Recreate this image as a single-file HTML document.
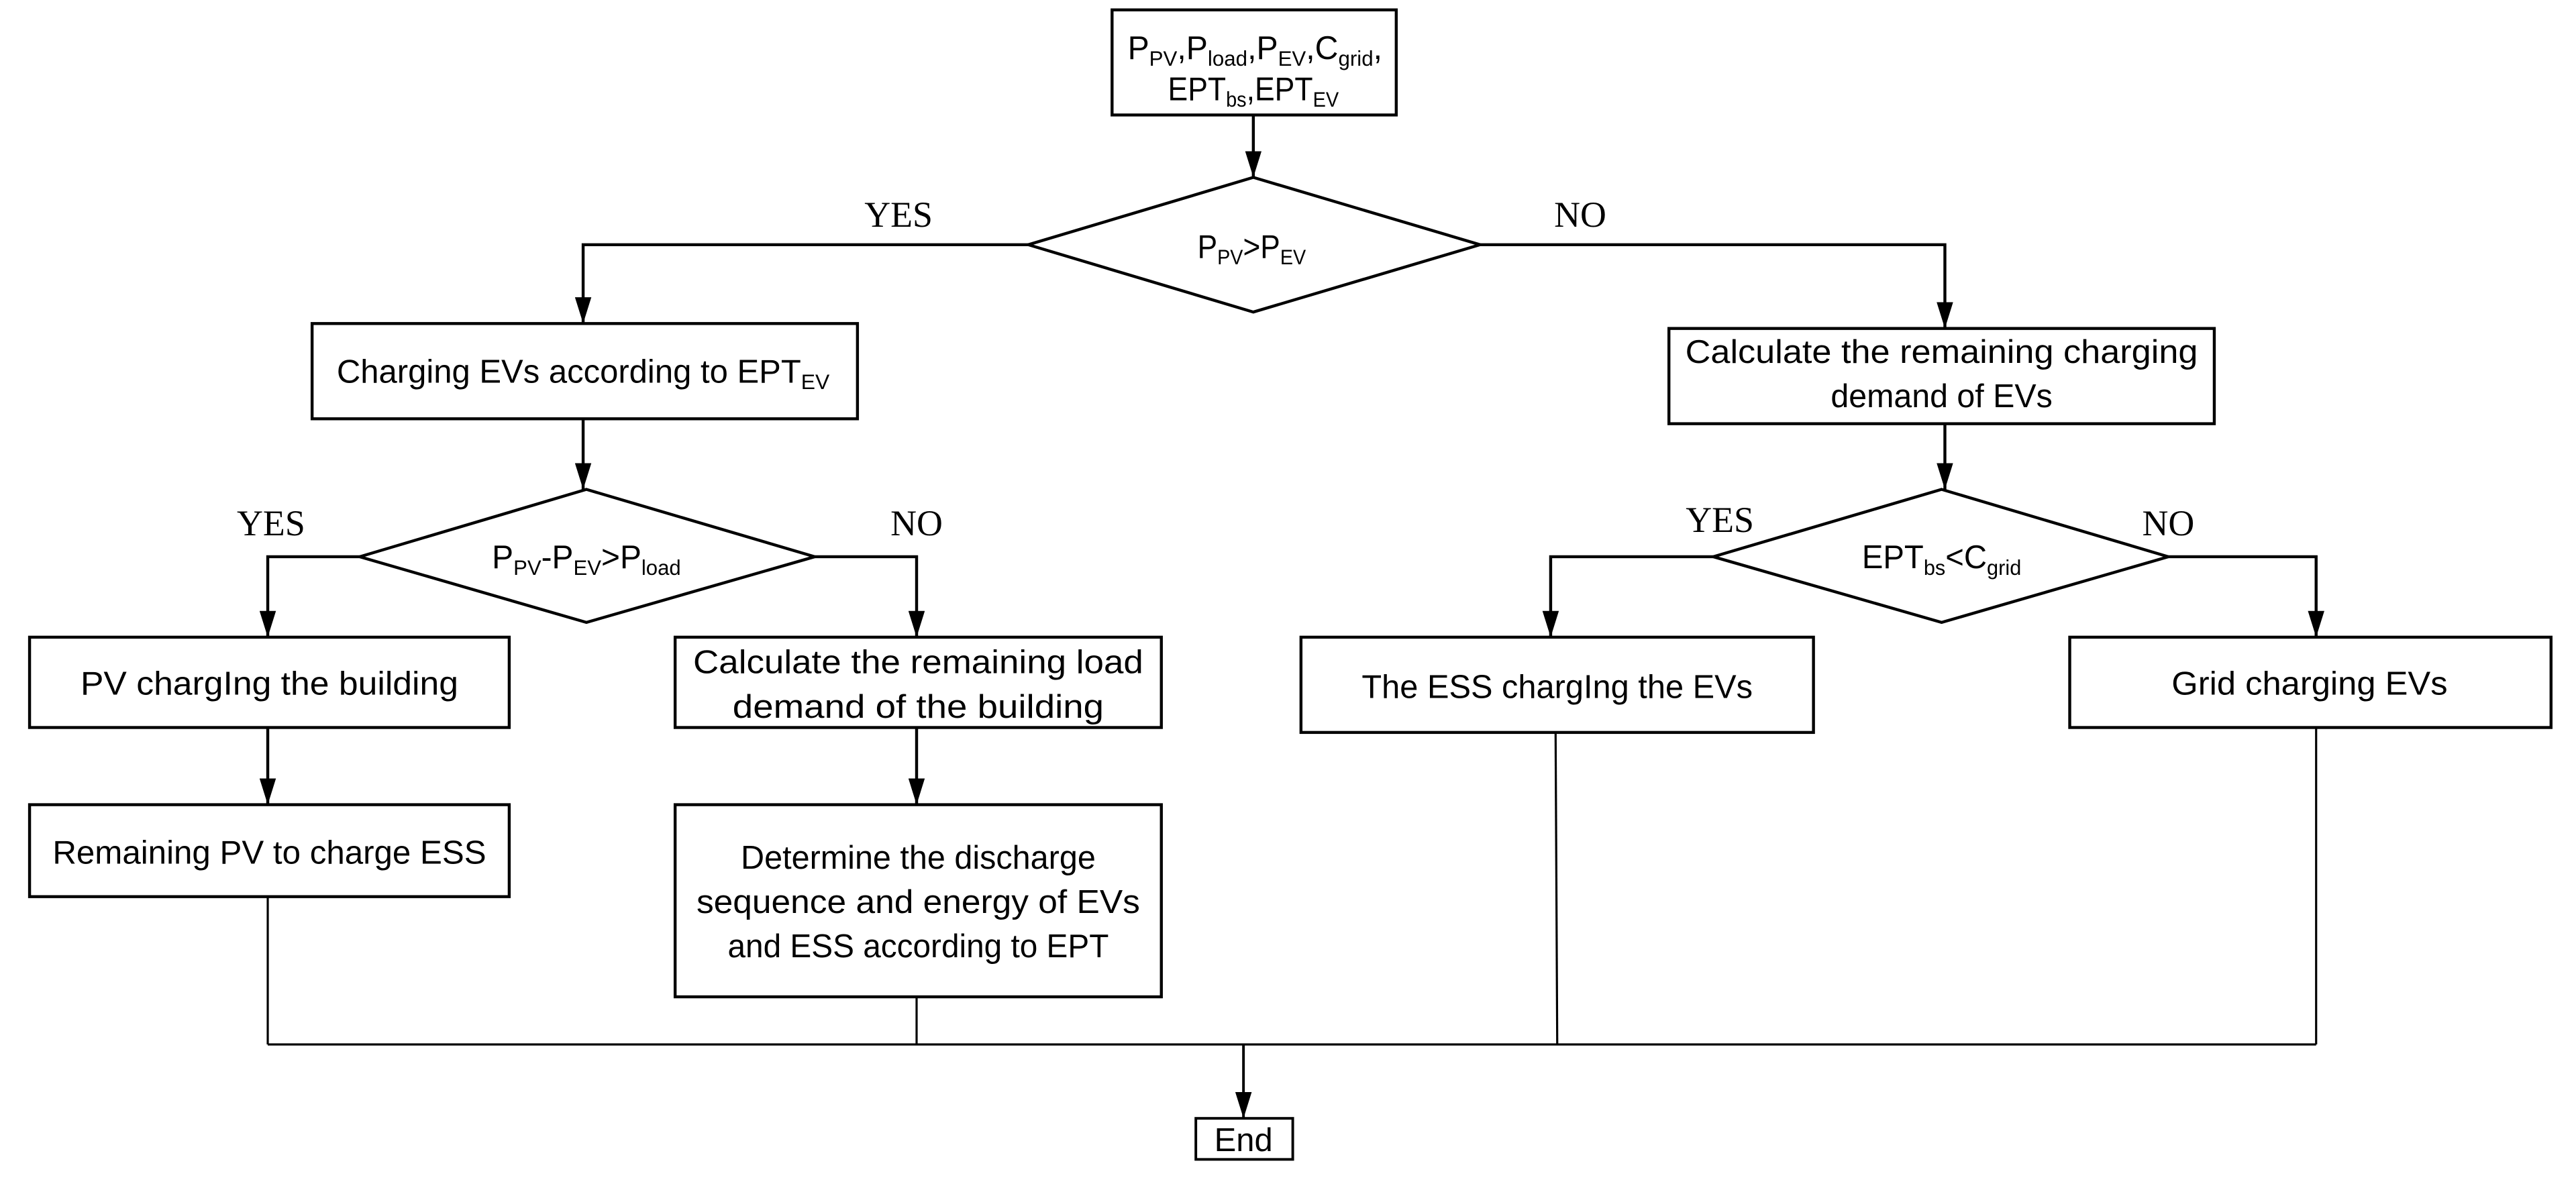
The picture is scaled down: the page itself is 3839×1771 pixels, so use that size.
<!DOCTYPE html>
<html><head><meta charset="utf-8"><style>
html,body{margin:0;padding:0;background:#fff;}
svg{display:block;}
text{font-family:"Liberation Sans",sans-serif;font-size:20px;fill:#000;}
.lbl{font-family:"Liberation Serif",serif;font-size:22px;}
.s{font-size:13px;}
</style></head><body>
<svg width="3839" height="1771" viewBox="0 0 1568.2 723.4" xmlns="http://www.w3.org/2000/svg">
<defs><marker id="a" markerWidth="16" markerHeight="10" refX="16" refY="5" orient="auto" markerUnits="userSpaceOnUse"><path d="M0,0 L16,5 L0,10 z" fill="#000"/></marker></defs>
<g fill="none" stroke="#000" stroke-width="1.8">
<rect x="677" y="6" width="173" height="64" fill="#fff"/>
<line x1="763" y1="70" x2="763" y2="108" marker-end="url(#a)"/>
<polygon points="763,108 901,149 763,190 626,149" fill="#fff"/>
<polyline points="626,149 355,149 355,197" marker-end="url(#a)"/>
<polyline points="901,149 1184,149 1184,200" marker-end="url(#a)"/>
<rect x="190" y="197" width="332" height="58"/>
<rect x="1016" y="200" width="332" height="58"/>
<line x1="355" y1="255" x2="355" y2="298" marker-end="url(#a)"/>
<polygon points="357,298 496,339 357,379 219,339"/>
<polyline points="219,339 163,339 163,388" marker-end="url(#a)"/>
<polyline points="496,339 558,339 558,388" marker-end="url(#a)"/>
<rect x="18" y="388" width="292" height="55"/>
<rect x="411" y="388" width="296" height="55"/>
<line x1="163" y1="443" x2="163" y2="490" marker-end="url(#a)"/>
<line x1="558" y1="443" x2="558" y2="490" marker-end="url(#a)"/>
<rect x="18" y="490" width="292" height="56"/>
<rect x="411" y="490" width="296" height="117"/>
<line x1="1184" y1="258" x2="1184" y2="298" marker-end="url(#a)"/>
<polygon points="1182,298 1320,339 1182,379 1043,339"/>
<polyline points="1043,339 944,339 944,388" marker-end="url(#a)"/>
<polyline points="1320,339 1410,339 1410,388" marker-end="url(#a)"/>
<rect x="792" y="388" width="312" height="58"/>
<rect x="1260" y="388" width="293" height="55"/>
</g>
<g fill="none" stroke="#000" stroke-width="1.3">
<line x1="163" y1="546" x2="163" y2="636"/>
<line x1="558" y1="607" x2="558" y2="636"/>
<line x1="947" y1="446" x2="948" y2="636"/>
<line x1="1410" y1="443" x2="1410" y2="636"/>
<line x1="163" y1="636" x2="1410" y2="636"/>
<line x1="757" y1="636" x2="757" y2="681" stroke-width="1.6" marker-end="url(#a)"/>
<rect x="728" y="681" width="59" height="25" stroke-width="1.6"/>
</g>
<g text-anchor="middle">
<text x="764" y="36" textLength="155" lengthAdjust="spacingAndGlyphs">P<tspan class="s" dy="4">PV</tspan><tspan dy="-4">,P</tspan><tspan class="s" dy="4">load</tspan><tspan dy="-4">,P</tspan><tspan class="s" dy="4">EV</tspan><tspan dy="-4">,C</tspan><tspan class="s" dy="4">grid</tspan><tspan dy="-4">,</tspan></text>
<text x="763" y="61" textLength="104" lengthAdjust="spacingAndGlyphs">EPT<tspan class="s" dy="4">bs</tspan><tspan dy="-4">,EPT</tspan><tspan class="s" dy="4">EV</tspan></text>
<text x="762" y="157" textLength="66" lengthAdjust="spacingAndGlyphs">P<tspan class="s" dy="4">PV</tspan><tspan dy="-4">&gt;P</tspan><tspan class="s" dy="4">EV</tspan></text>
<text x="355" y="233" textLength="300" lengthAdjust="spacingAndGlyphs">Charging EVs according to EPT<tspan class="s" dy="4">EV</tspan></text>
<text x="1182" y="221" textLength="312" lengthAdjust="spacingAndGlyphs">Calculate the remaining charging</text>
<text x="1182" y="248" textLength="135" lengthAdjust="spacingAndGlyphs">demand of EVs</text>
<text x="357" y="346" textLength="115" lengthAdjust="spacingAndGlyphs">P<tspan class="s" dy="4">PV</tspan><tspan dy="-4">-P</tspan><tspan class="s" dy="4">EV</tspan><tspan dy="-4">&gt;P</tspan><tspan class="s" dy="4">load</tspan></text>
<text x="1182" y="346" textLength="97" lengthAdjust="spacingAndGlyphs">EPT<tspan class="s" dy="4">bs</tspan><tspan dy="-4">&lt;C</tspan><tspan class="s" dy="4">grid</tspan></text>
<text x="164" y="423" textLength="230" lengthAdjust="spacingAndGlyphs">PV chargIng the building</text>
<text x="559" y="410" textLength="274" lengthAdjust="spacingAndGlyphs">Calculate the remaining load</text>
<text x="559" y="437" textLength="226" lengthAdjust="spacingAndGlyphs">demand of the building</text>
<text x="164" y="526" textLength="264" lengthAdjust="spacingAndGlyphs">Remaining PV to charge ESS</text>
<text x="559" y="529" textLength="216" lengthAdjust="spacingAndGlyphs">Determine the discharge</text>
<text x="559" y="556" textLength="270" lengthAdjust="spacingAndGlyphs">sequence and energy of EVs</text>
<text x="559" y="583" textLength="232" lengthAdjust="spacingAndGlyphs">and ESS according to EPT</text>
<text x="948" y="425" textLength="238" lengthAdjust="spacingAndGlyphs">The ESS chargIng the EVs</text>
<text x="1406" y="423" textLength="168" lengthAdjust="spacingAndGlyphs">Grid charging EVs</text>
<text x="757" y="701">End</text>
</g>
<g class="lbl" text-anchor="middle">
<text class="lbl" x="547" y="138">YES</text>
<text class="lbl" x="962" y="138">NO</text>
<text class="lbl" x="165" y="326">YES</text>
<text class="lbl" x="558" y="326">NO</text>
<text class="lbl" x="1047" y="324">YES</text>
<text class="lbl" x="1320" y="326">NO</text>
</g>
</svg>
</body></html>
